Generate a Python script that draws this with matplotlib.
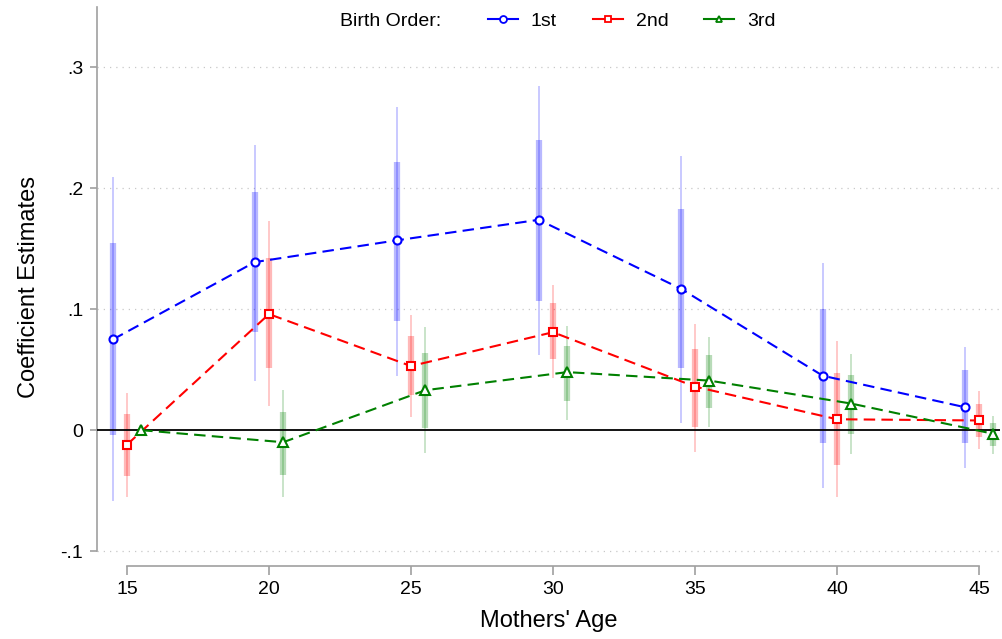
"""Coefficient estimates by mother's age and birth order."""

import numpy as np
import matplotlib.pyplot as plt
from matplotlib.lines import Line2D

plt.rcParams["font.family"] = ["Liberation Sans", "DejaVu Sans"]

ages = [15, 20, 25, 30, 35, 40, 45]

# 1st births
b1 = [0.075, 0.139, 0.157, 0.174, 0.117, 0.045, 0.019]
b1_lo90 = [-0.004, 0.081, 0.090, 0.107, 0.051, -0.011, -0.011]
b1_hi90 = [0.155, 0.197, 0.222, 0.240, 0.183, 0.100, 0.050]
b1_lo95 = [-0.059, 0.041, 0.045, 0.062, 0.006, -0.048, -0.031]
b1_hi95 = [0.209, 0.236, 0.267, 0.285, 0.227, 0.138, 0.069]

# 2nd births
b2 = [-0.012, 0.096, 0.053, 0.081, 0.036, 0.009, 0.008]
b2_lo90 = [-0.038, 0.051, 0.029, 0.059, 0.003, -0.029, -0.006]
b2_hi90 = [0.013, 0.142, 0.078, 0.105, 0.067, 0.047, 0.022]
b2_lo95 = [-0.055, 0.020, 0.011, 0.043, -0.018, -0.055, -0.016]
b2_hi95 = [0.031, 0.173, 0.095, 0.120, 0.088, 0.074, 0.032]

# 3rd births (age 15 is the base: no interval)
b3 = [0.000, -0.010, 0.033, 0.048, 0.041, 0.022, -0.003]
b3_lo90 = [np.nan, -0.037, 0.002, 0.024, 0.018, -0.003, -0.013]
b3_hi90 = [np.nan, 0.015, 0.064, 0.070, 0.062, 0.046, 0.006]
b3_lo95 = [np.nan, -0.055, -0.019, 0.008, 0.003, -0.020, -0.020]
b3_hi95 = [np.nan, 0.033, 0.085, 0.086, 0.077, 0.063, 0.012]

series = [
    ("1st", -0.5, "blue", "o", b1, b1_lo90, b1_hi90, b1_lo95, b1_hi95),
    ("2nd", 0.0, "red", "s", b2, b2_lo90, b2_hi90, b2_lo95, b2_hi95),
    ("3rd", 0.5, "green", "^", b3, b3_lo90, b3_hi90, b3_lo95, b3_hi95),
]

fig = plt.figure(figsize=(10.02, 6.39), dpi=100)
ax = fig.add_axes([0.0968, 0.1142, 0.9012, 0.8748])

axis_grey = "#a0a0a0"
dash = (0, (5.5, 3))

for label, shift, color, marker, est, lo90, hi90, lo95, hi95 in series:
    x = np.array(ages) + shift
    ax.vlines(x, lo95, hi95, color=color, alpha=0.25, lw=1.2, zorder=2)
    ax.vlines(x, lo90, hi90, color=color, alpha=0.28, lw=4.5, zorder=2)

for label, shift, color, marker, est, lo90, hi90, lo95, hi95 in series:
    x = np.array(ages) + shift
    ms = 6.5 if marker == "^" else 5.8
    ax.plot(x, est, color=color, ls=dash, lw=1.5, marker=marker,
            ms=ms, mfc="white", mec=color, mew=1.5, zorder=4)

ax.axhline(0, color="black", lw=1.3, zorder=3)
for yv in [-0.1, 0.1, 0.2, 0.3]:
    ax.axhline(yv, color="#c8c8c8", lw=0.9, ls=(0, (1, 4)), zorder=1)

ax.set_xlim(13.944, 45.74)
ax.set_ylim(-0.1124, 0.35)

ax.set_xticks(ages)
ax.set_yticks([-0.1, 0, 0.1, 0.2, 0.3])
ax.set_yticklabels(["-.1", "0", ".1", ".2", ".3"])

for side in ["top", "right"]:
    ax.spines[side].set_visible(False)
ax.spines["left"].set_color(axis_grey)
ax.spines["bottom"].set_color(axis_grey)
ax.spines["left"].set_linewidth(1.2)
ax.spines["bottom"].set_linewidth(1.2)
ax.spines["left"].set_bounds(-0.1, 0.35)
ax.spines["bottom"].set_bounds(15, 45)

ax.tick_params(axis="x", length=6.5, width=1.2, color=axis_grey,
               labelsize=14, pad=4)
ax.tick_params(axis="y", length=5, width=1.2, color=axis_grey,
               labelsize=14, pad=5)

ax.set_xlabel("Mothers' Age", fontsize=17, labelpad=9)
ax.set_ylabel("Coefficient Estimates", fontsize=17, labelpad=15)

handles = [
    Line2D([], [], color=c, lw=1.5, marker=m, ms=5, mfc="white", mec=c, mew=1.3)
    for _, _, c, m, *_ in series
]
fig.legend(handles, [s[0] for s in series], loc="center left",
           bbox_to_anchor=(478 / 1002, 1 - 21 / 639), ncol=3, frameon=False,
           fontsize=14, borderpad=0, handlelength=1.54, handletextpad=0.67,
           columnspacing=1.85)
fig.text(340 / 1002, 1 - 21 / 639, "Birth Order:", fontsize=14,
         ha="left", va="center")

fig.savefig("out.png", dpi=100)
